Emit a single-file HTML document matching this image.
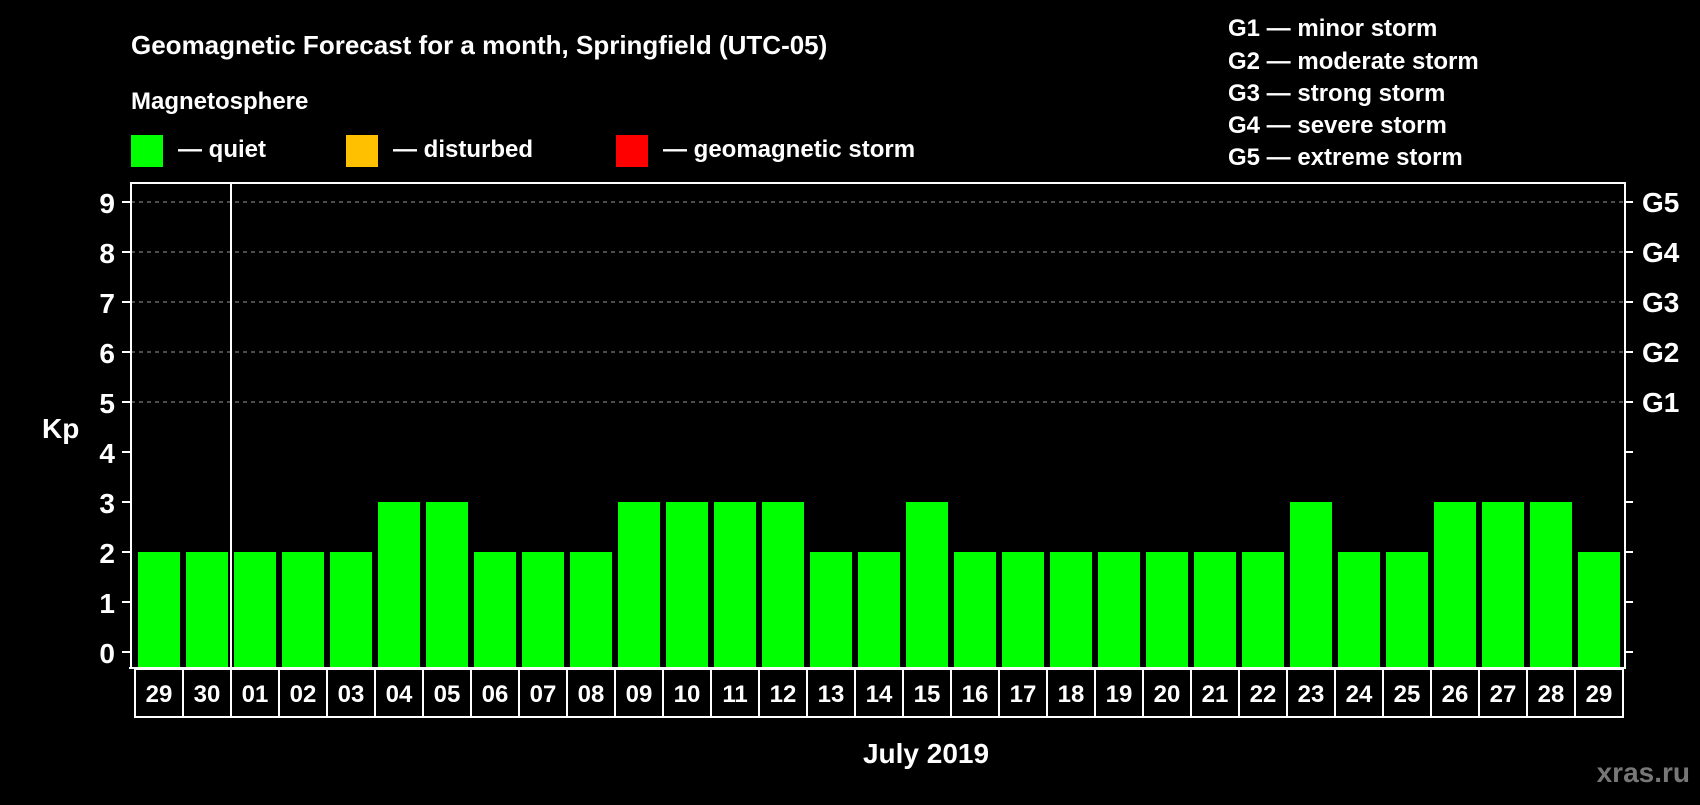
<!DOCTYPE html>
<html><head><meta charset="utf-8"><style>
body{margin:0;background:#000;width:1700px;height:800px;overflow:hidden}
svg text{font-family:"Liberation Sans",sans-serif;font-weight:bold;fill:#fff}
</style></head><body>
<svg id="chart" width="1700" height="800" xmlns="http://www.w3.org/2000/svg">
<text x="131" y="54" font-size="26">Geomagnetic Forecast for a month, Springfield (UTC-05)</text>
<text x="131" y="109" font-size="24">Magnetosphere</text>
<rect x="131" y="135" width="32" height="32" fill="#00ff00"/>
<text x="178" y="157" font-size="24">— quiet</text>
<rect x="346" y="135" width="32" height="32" fill="#ffc000"/>
<text x="393" y="157" font-size="24">— disturbed</text>
<rect x="616" y="135" width="32" height="32" fill="#ff0000"/>
<text x="663" y="157" font-size="24">— geomagnetic storm</text>
<g font-size="24">
<text x="1228" y="36">G1 — minor storm</text>
<text x="1228" y="69">G2 — moderate storm</text>
<text x="1228" y="101">G3 — strong storm</text>
<text x="1228" y="133">G4 — severe storm</text>
<text x="1228" y="165">G5 — extreme storm</text>
</g>
<text x="42" y="438" font-size="28">Kp</text>
<text x="926" y="763" font-size="28" text-anchor="middle">July 2019</text>
<text x="1690" y="782" font-size="28" text-anchor="end" style="fill:#777">xras.ru</text>
<g id="grid"></g><g id="bars"></g><g id="axes"></g>
</svg>
<script>
const days=["29","30","01","02","03","04","05","06","07","08","09","10","11","12","13","14","15","16","17","18","19","20","21","22","23","24","25","26","27","28","29"];
const kp=[2,2,2,2,2,3,3,2,2,2,3,3,3,3,2,2,3,2,2,2,2,2,2,2,3,2,2,3,3,3,2];
const yTicks=[0,1,2,3,4,5,6,7,8,9];
const gLabels=["G1","G2","G3","G4","G5"];
const gLevels=[5,6,7,8,9];
const NS="http://www.w3.org/2000/svg";
const L=131,R=1625,T=183,B=668;
const y=v=>652-v*50;
const x=i=>138+i*48;
function mk(p,t,a){const e=document.createElementNS(NS,t);for(const k in a)e.setAttribute(k,a[k]);p.appendChild(e);return e;}
const grid=document.getElementById('grid'),bars=document.getElementById('bars'),axes=document.getElementById('axes');
gLevels.forEach((v,i)=>{
 const ln=mk(grid,'line',{x1:L,x2:R,y1:y(v),y2:y(v),stroke:'#999','stroke-dasharray':'4,4','stroke-width':1});
 
 
 const t=mk(axes,'text',{x:1642,y:y(v)+10,'font-size':28});t.textContent=gLabels[i];
 
 
});
kp.forEach((v,i)=>{
 const r=mk(bars,'rect',{x:x(i),y:y(v),width:42,height:B-y(v),fill:'#00ff00'});
 
 
 const bx=mk(axes,'rect',{x:x(i)-3,y:669,width:48,height:48,fill:'none',stroke:'#fff','stroke-width':2});
 
 
 const t=mk(axes,'text',{x:x(i)+21,y:702,'font-size':24,'text-anchor':'middle'});t.textContent=days[i];
 
 
});
yTicks.forEach(v=>{
 const a=mk(axes,'line',{x1:122,x2:L,y1:y(v),y2:y(v),stroke:'#fff','stroke-width':2});
 
 
 const b=mk(axes,'line',{x1:R,x2:R+8,y1:y(v),y2:y(v),stroke:'#fff','stroke-width':2});
 
 
 const t=mk(axes,'text',{x:115,y:y(v)+11,'font-size':28,'text-anchor':'end'});t.textContent=v;
 
 
});
const fr=mk(axes,'path',{d:`M${L},${B}V${T}H${R}V${B}`,fill:'none',stroke:'#fff','stroke-width':2});


const bl=mk(axes,'line',{x1:L-2,x2:R+1,y1:B,y2:B,stroke:'#fff','stroke-width':2});


const dv=mk(axes,'line',{x1:231,x2:231,y1:T,y2:717,stroke:'#fff','stroke-width':2});


</script>
</body></html>
